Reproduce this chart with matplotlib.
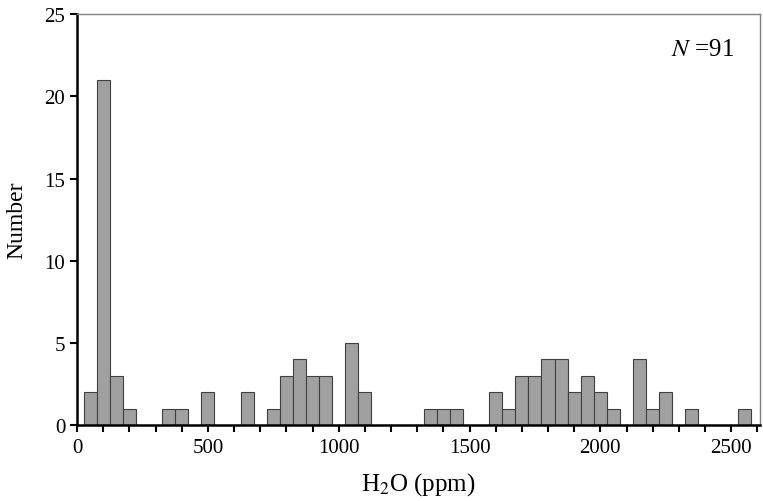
import matplotlib
matplotlib.use("Agg")
import matplotlib.pyplot as plt
import numpy as np

# bin centres (ppm, 50 ppm wide) and counts
bin_centers = [50, 100, 150, 200, 350, 400, 500, 650, 750, 800, 850, 900, 950,
               1050, 1100, 1350, 1400, 1450, 1600, 1650, 1700, 1750, 1800, 1850,
               1900, 1950, 2000, 2050, 2150, 2200, 2250, 2350, 2550]
counts = [2, 21, 3, 1, 1, 1, 2, 2, 1, 3, 4, 3, 3,
          5, 2, 1, 1, 1, 2, 1, 3, 3, 4, 4,
          2, 3, 2, 1, 4, 1, 2, 1, 1]
n_total = 91

plt.rcParams["font.family"] = ["Liberation Serif", "DejaVu Serif"]
plt.rcParams["mathtext.fontset"] = "stix"

fig = plt.figure(figsize=(7.63, 5.02), dpi=100)
ax = fig.add_axes([0.101, 0.151, 0.895, 0.819])

ax.bar(bin_centers, counts, width=50, color="#a0a0a0", edgecolor="#404040", linewidth=0.8)

ax.set_xlim(0, 2610)
ax.set_ylim(0, 25)
ax.set_xticks(np.arange(0, 2601, 100))
ax.set_xticklabels([str(v) if v % 500 == 0 else "" for v in range(0, 2601, 100)])
ax.set_yticks(np.arange(0, 26, 5))
ax.tick_params(direction="out", length=5, width=1.5, labelsize=15, colors="black")
ax.tick_params(axis="x", pad=4)

for s in ["left", "bottom"]:
    ax.spines[s].set_linewidth(1.8)
for s in ["top", "right"]:
    ax.spines[s].set_linewidth(1.0)
    ax.spines[s].set_color("#808080")

ax.set_ylabel("Number", fontsize=17, labelpad=12)
ax.set_xlabel("H$_2$O (ppm)", fontsize=18, labelpad=10)

ax.text(0.962, 0.915, "$N$ =" + str(n_total), transform=ax.transAxes,
        ha="right", va="center", fontsize=18)

plt.savefig("out.png", dpi=100)
plt.close()
